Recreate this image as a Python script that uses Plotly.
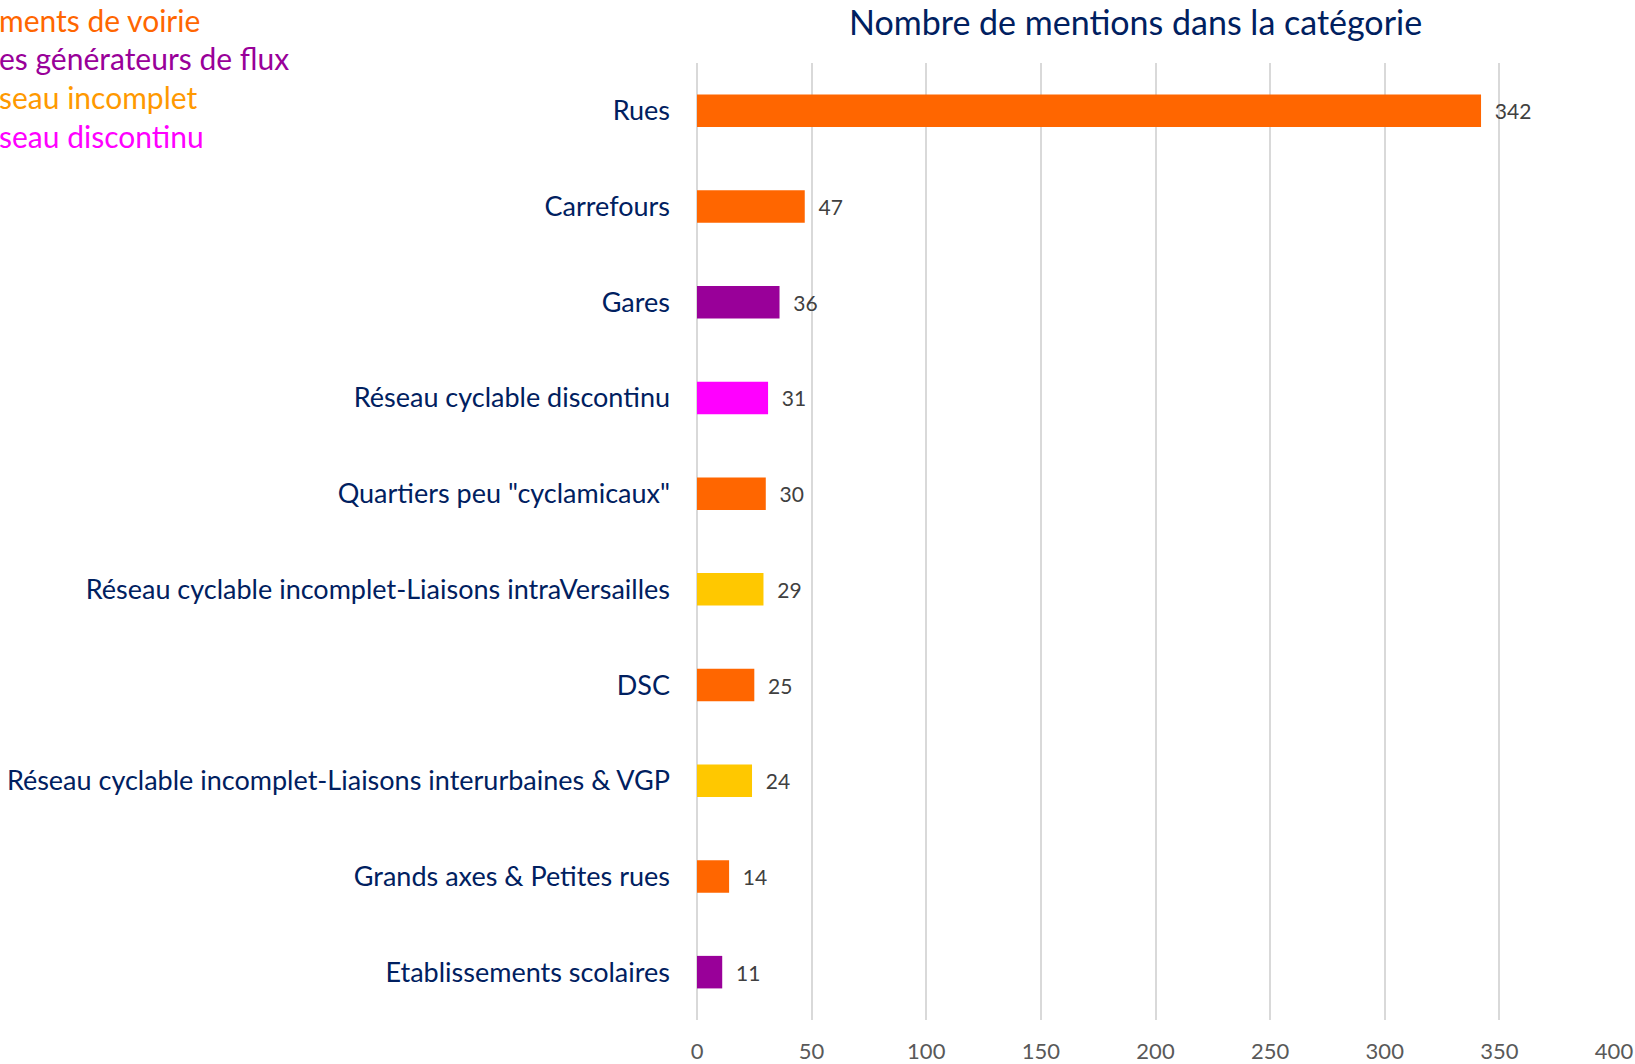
import plotly.graph_objects as go

categories = ["Rues", "Carrefours", "Gares", "Réseau cyclable discontinu",
              "Quartiers peu \"cyclamicaux\"",
              "Réseau cyclable incomplet-Liaisons intraVersailles", "DSC",
              "Réseau cyclable incomplet-Liaisons interurbaines & VGP",
              "Grands axes & Petites rues", "Etablissements scolaires"]
values = [342, 47, 36, 31, 30, 29, 25, 24, 14, 11]
groups = ["voirie", "voirie", "flux", "discontinu", "voirie", "incomplet",
          "voirie", "incomplet", "voirie", "flux"]
group_colors = {"voirie": "#FF6600", "flux": "#990099",
                "incomplet": "#FFC800", "discontinu": "#FF00FF"}
# legend text as visible in the reference (cut by the left edge of the image)
legend_texts = ["ments de voirie", "es générateurs de flux",
                "seau incomplet", "seau discontinu"]
legend_colors = ["#FF6600", "#990099", "#FF9900", "#FF00FF"]
legend_y_px = [20, 58, 97, 136]
x_ticks = [0, 50, 100, 150, 200, 250, 300, 350, 400]

W, H = 1635, 1064
L, R, T, B = 697, 21, 63, 44
FONT = "Lato, 'Open Sans', sans-serif"

fig = go.Figure(go.Bar(
    y=categories, x=values, orientation="h",
    marker=dict(color=[group_colors[g] for g in groups], line=dict(width=0)),
    text=[str(v) for v in values], texttemplate="  %{text}", textposition="outside",
    textfont=dict(family=FONT, size=21, color="#404040"),
    cliponaxis=False, width=0.34,
))

def px_x(p):
    return (p - L) / (W - L - R)

def px_y(p):
    return 1 - (p - T) / (H - T - B)

annotations = [dict(text="Nombre de mentions dans la catégorie", xref="paper", yref="paper",
                    x=px_x(1135), y=px_y(0), xanchor="center", yanchor="top",
                    showarrow=False, borderpad=0,
                    font=dict(family=FONT, size=34, color="#002060"))]
for t, c, yy in zip(legend_texts, legend_colors, legend_y_px):
    annotations.append(dict(text=t, xref="paper", yref="paper", x=px_x(-2), y=px_y(yy),
                            xanchor="left", yanchor="middle", showarrow=False, borderpad=0,
                            font=dict(family=FONT, size=30, color=c)))

fig.update_layout(
    width=W, height=H, margin=dict(l=L, r=R, t=T, b=B, autoexpand=False),
    paper_bgcolor="white", plot_bgcolor="white", showlegend=False,
    annotations=annotations,
    xaxis=dict(range=[0, 400], tickvals=x_ticks, showgrid=True, gridcolor="#D9D9D9",
               gridwidth=2, zeroline=True, zerolinecolor="#D9D9D9", zerolinewidth=2,
               showline=False, ticks="", ticklabelstandoff=16, automargin=False,
               tickfont=dict(family=FONT, size=22, color="#595959")),
    yaxis=dict(autorange="reversed", showgrid=False, showline=False, ticks="",
               ticklabelstandoff=26, automargin=False,
               tickfont=dict(family=FONT, size=27, color="#002060")),
)

fig.write_html("out.html", post_script="document.body.style.margin='0';",
               config={"displayModeBar": False})
